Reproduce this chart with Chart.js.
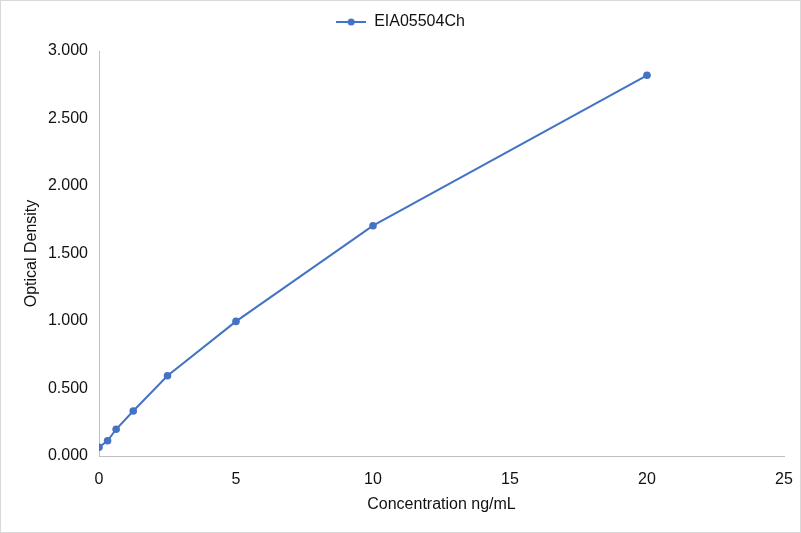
<!DOCTYPE html>
<html>
<head>
<meta charset="utf-8">
<script src="https://cdn.jsdelivr.net/npm/chart.js@4.4.0/dist/chart.umd.min.js"></script>
<style>
  body { margin: 0; background: #fff; }
  .wrap { width: 801px; height: 533px; box-sizing: border-box; border: 1px solid #d9d9d9; }
</style>
</head>
<body>
<div class="wrap"><canvas id="c"></canvas></div>
<script>
// standard curve values
const concentrations = [0, 0.3125, 0.625, 1.25, 2.5, 5, 10, 20];
const densities = [0.065, 0.113, 0.198, 0.333, 0.594, 0.997, 1.706, 2.82];
const seriesName = 'EIA05504Ch';
const xTicks = [0, 5, 10, 15, 20, 25];
const yTicks = [0, 0.5, 1, 1.5, 2, 2.5, 3];

const blue = '#4472C4';
const textCol = '#111';
const fnt = { family: 'Liberation Sans', size: 16 };

// legend marker: short line with a dot in the middle
const marker = document.createElement('canvas');
marker.width = 30; marker.height = 10;
const mctx = marker.getContext('2d');
mctx.strokeStyle = blue; mctx.lineWidth = 2;
mctx.beginPath(); mctx.moveTo(0, 5); mctx.lineTo(30, 5); mctx.stroke();
mctx.fillStyle = blue;
mctx.beginPath(); mctx.arc(15, 5, 3.5, 0, Math.PI * 2); mctx.fill();

// extra space under the legend so it sits near the top edge
const legendGap = {
  id: 'legendGap',
  beforeLayout(chart) {
    const lg = chart.legend;
    if (lg && !lg._gap) {
      const fit = lg.fit;
      lg.fit = function () { fit.call(this); this.height += 11; };
      lg._gap = true;
    }
  }
};

const pts = concentrations.map((x, i) => ({ x: x, y: densities[i] }));

new Chart(document.getElementById('c'), {
  type: 'line',
  data: {
    datasets: [{
      label: seriesName,
      data: pts,
      borderColor: blue,
      backgroundColor: blue,
      borderWidth: 2,
      pointRadius: 3.8,
      pointBorderWidth: 0,
      tension: 0
    }]
  },
  plugins: [legendGap],
  options: {
    responsive: true,
    maintainAspectRatio: false,
    animation: false,
    layout: { padding: { top: 3, right: 0, bottom: 0, left: 0 } },
    plugins: {
      tooltip: { enabled: false },
      legend: {
        labels: {
          usePointStyle: true,
          pointStyle: marker,
          pointStyleWidth: 30,
          boxHeight: 10,
          color: textCol,
          font: fnt,
          padding: 10
        }
      }
    },
    scales: {
      x: {
        type: 'linear',
        min: 0, max: 25,
        afterBuildTicks: s => { s.ticks = xTicks.map(v => ({ value: v })); },
        afterFit: s => { s.height = 76; s.paddingRight = 16; },
        grid: { display: false, drawTicks: false },
        border: { display: true, color: '#bfbfbf', width: 1 },
        ticks: { color: textCol, padding: 14, font: fnt },
        title: {
          display: true, text: 'Concentration ng/mL', color: textCol,
          font: fnt, padding: { top: 0, bottom: 18 }
        }
      },
      y: {
        min: 0, max: 3,
        afterBuildTicks: s => { s.ticks = yTicks.map(v => ({ value: v })); },
        afterFit: s => { s.width = 98; s.paddingTop = 0; },
        grid: { display: false, drawTicks: false },
        border: { display: true, color: '#bfbfbf', width: 1 },
        ticks: {
          color: textCol, padding: 11, font: fnt,
          callback: v => v.toFixed(3)
        },
        title: {
          display: true, text: 'Optical Density', color: textCol,
          font: fnt, padding: { top: 21, bottom: 0 }
        }
      }
    }
  }
});
</script>
</body>
</html>
